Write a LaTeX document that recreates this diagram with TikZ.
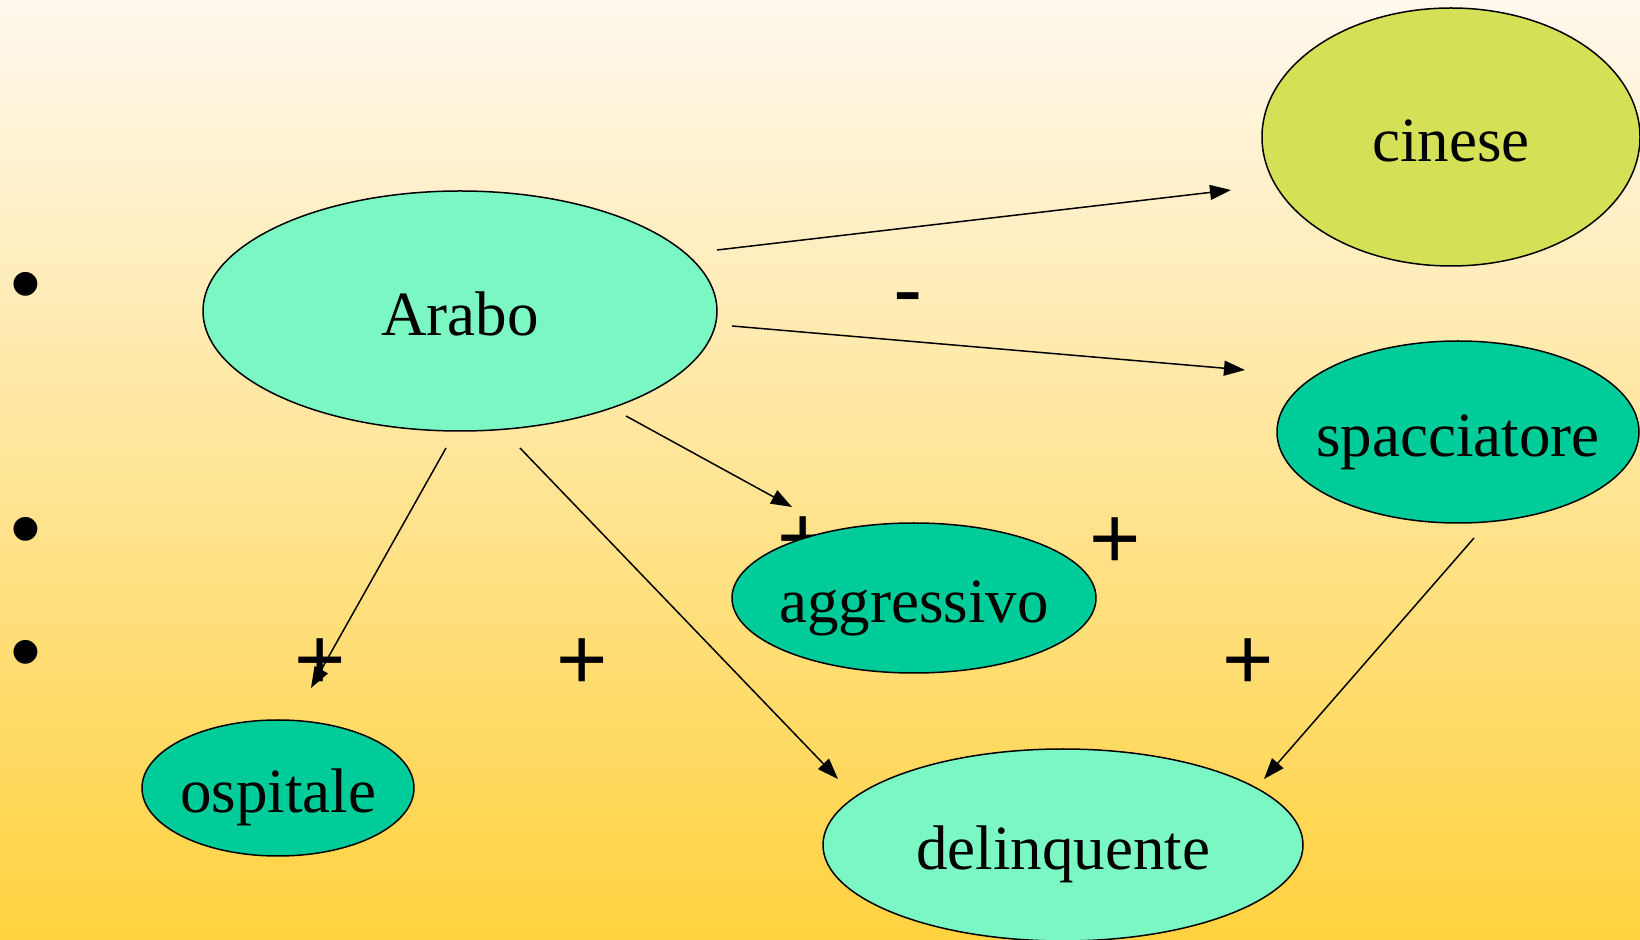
\documentclass[tikz,border=0pt]{standalone}
\usepackage{fontspec}
\setmainfont{Liberation Serif}
\newfontfamily\signfont{Liberation Sans}
\usetikzlibrary{shapes.geometric,arrows.meta}
\definecolor{bgtop}{HTML}{FFF8EE}
\definecolor{bgbottom}{HTML}{FFD23F}
\definecolor{mintfill}{HTML}{7AF7C2}
\definecolor{tealfill}{HTML}{00CC99}
\definecolor{limefill}{HTML}{D4E157}
\tikzset{
	blob/.style={ellipse, draw=black, line width=0.75pt, inner sep=0pt,
		font=\fontsize{31.5}{36}\selectfont, text height=28pt, text depth=3pt},
	sign/.style={font=\signfont\fontsize{44}{50}\selectfont, inner sep=0pt},
	link/.style={line width=0.75pt, -{Triangle[length=10.5pt,width=7.5pt]}}
}
\newcommand{\word}[1]{\makebox[0pt]{#1}}
\begin{document}
\begin{tikzpicture}[x=0.5pt, y=-0.5pt]
			%%background
			\useasboundingbox (0, 0) rectangle (1640, 940);
			\shade[top color=bgtop, bottom color=bgbottom] (0, 0) rectangle (1640, 940);

			%%bullets and signs
			\node[sign] (b1) at (26, 293){•};
			\node[sign] (b2) at (26, 538){•};
			\node[sign] (b3) at (26, 661){•};
			\node[sign] (minus) at (908, 306){-};
			\node[sign] (p1) at (803, 542){+};
			\node[sign] (p2) at (1115, 543){+};
			\node[sign] (p3) at (320, 664){+};
			\node[sign] (p4) at (582, 664){+};
			\node[sign] (p5) at (1248, 664){+};

			%%draw the ellipses (sizes in pt, half the pixel size)
			\node[blob, fill=limefill, minimum width=189pt, minimum height=129pt] (cinese) at (1451, 137){\word{cinese}};
			\node[blob, fill=mintfill, minimum width=257pt, minimum height=120pt] (arabo) at (460, 311){\word{Arabo}};
			\node[blob, fill=tealfill, minimum width=181pt, minimum height=91pt] (spacciatore) at (1458, 432){\word{spacciatore}};
			\node[blob, fill=tealfill, minimum width=182pt, minimum height=75pt] (aggressivo) at (914, 598){\word{aggressivo}};
			\node[blob, fill=tealfill, minimum width=136pt, minimum height=68pt] (ospitale) at (278, 788){\word{ospitale}};
			\node[blob, fill=mintfill, minimum width=240pt, minimum height=96pt] (delinquente) at (1063, 845){\word{delinquente}};

			%%arrow ends
			\coordinate (a-cin) at (717, 250);
			\coordinate (cin-in) at (1231, 190);
			\coordinate (a-spa) at (732, 326);
			\coordinate (spa-in) at (1245, 370);
			\coordinate (a-agg) at (626, 416);
			\coordinate (agg-in) at (792, 507);
			\coordinate (a-osp) at (446, 448);
			\coordinate (osp-in) at (311, 688);
			\coordinate (a-del) at (520, 448);
			\coordinate (del-in) at (838, 779);
			\coordinate (spa-del) at (1474, 538);
			\coordinate (del-in2) at (1264, 779);

			%%draw the arrows
			\draw[link] (a-cin) to (cin-in);
			\draw[link] (a-spa) to (spa-in);
			\draw[link] (a-agg) to (agg-in);
			\draw[link] (a-osp) to (osp-in);
			\draw[link] (a-del) to (del-in);
			\draw[link] (spa-del) to (del-in2);
		\end{tikzpicture}
\end{document}
